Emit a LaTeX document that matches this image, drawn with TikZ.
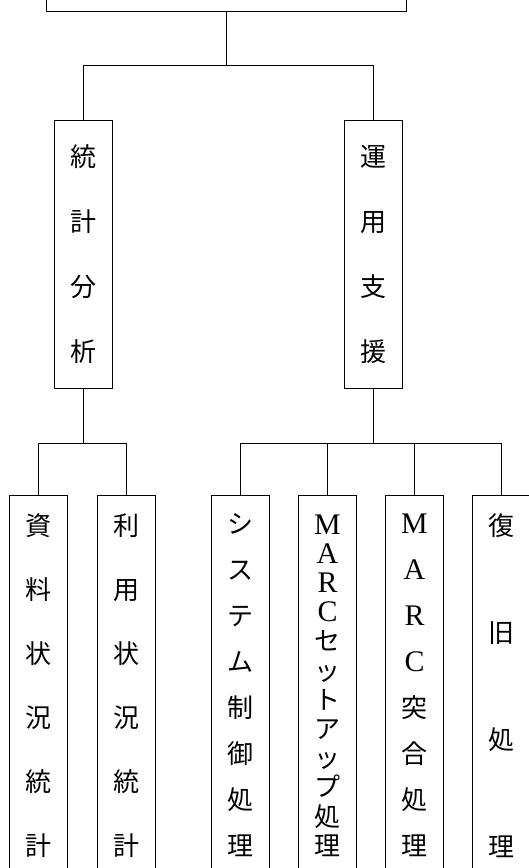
\documentclass[tikz,border=0pt]{standalone}
\usepackage{fontspec}
\newfontfamily\cjk{Noto Sans CJK JP}
\newfontfamily\latin[Scale=1.15]{Liberation Serif}
\newcommand{\lat}[1]{{\latin #1}}
\tikzset{
  caja/.style={draw, line width=1pt, minimum width=58pt, inner sep=0pt, align=center},
  paso/.style={font=\cjk\fontsize{26}{#1}\selectfont},
  linea/.style={line width=1pt}
}
\begin{document}
\begin{tikzpicture}[x=1pt,y=-1pt]
	\useasboundingbox (0,0) rectangle (529,868);

	% Nivel superior ---------------------------------------------
	\node[caja, minimum width=360pt, minimum height=102pt] (raiz) at (226,-40) {}; % caja cortada arriba
	\coordinate (j0) at (226,65); % barra horizontal

	\node[caja, minimum height=268pt, paso=65] (tokei) at (83.5,254) {統\\計\\分\\析};
	\node[caja, minimum height=268pt, paso=65] (unyo) at (373,254) {運\\用\\支\\援};

	\draw[linea] (raiz.south) -- (j0);
	\draw[linea] (j0) -| (tokei.north);
	\draw[linea] (j0) -| (unyo.north);

	% Rama izquierda ---------------------------------------------
	\coordinate (j1) at (83.5,443);
	\node[caja, anchor=north, minimum height=380pt, paso=64] (shiryo) at (38,495) {資\\料\\状\\況\\統\\計};
	\node[caja, anchor=north, minimum height=380pt, paso=64] (riyo) at (126,495) {利\\用\\状\\況\\統\\計};

	\draw[linea] (tokei.south) -- (j1);
	\draw[linea] (j1) -| (shiryo.north);
	\draw[linea] (j1) -| (riyo.north);

	% Rama derecha -----------------------------------------------
	\coordinate (j2) at (373,443);
	\node[caja, anchor=north, minimum height=380pt, paso=46] (seigyo) at (240,495) {シ\\ス\\テ\\ム\\制\\御\\処\\理};
	\node[caja, anchor=north, minimum height=380pt, paso=29.2] (setup) at (327.5,495) {\lat{M}\\\lat{A}\\\lat{R}\\\lat{C}\\セ\\ッ\\ト\\ア\\ッ\\プ\\処\\理};
	\node[caja, anchor=north, minimum height=380pt, paso=46] (totsugo) at (414.5,495) {\lat{M}\\\lat{A}\\\lat{R}\\\lat{C}\\突\\合\\処\\理};
	\node[caja, anchor=north, minimum height=380pt, paso=107] (fukkyu) at (501,495) {復\\旧\\処\\理};

	\draw[linea] (unyo.south) -- (j2);
	\draw[linea] (j2) -| (seigyo.north);
	\draw[linea] (j2) -| (setup.north);
	\draw[linea] (j2) -| (totsugo.north);
	\draw[linea] (j2) -| (fukkyu.north);
\end{tikzpicture}
\end{document}
